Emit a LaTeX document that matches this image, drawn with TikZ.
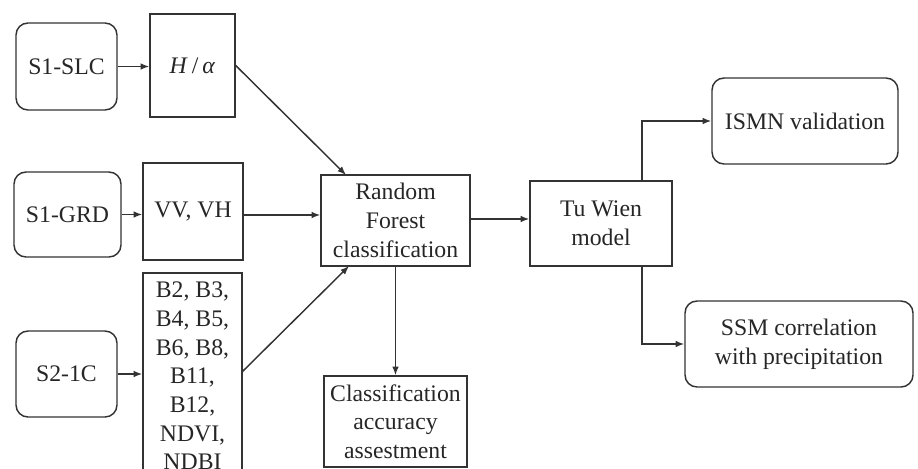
\documentclass[tikz,border=0pt]{standalone}
\usepackage{fontspec}
\setmainfont{Liberation Serif}
\usetikzlibrary{arrows.meta,calc}
\begin{document}
\begin{tikzpicture}[x=0.75pt,y=-0.75pt,
  every node/.style={font=\fontsize{17.8}{21.5}\selectfont, align=center, text=black!85, inner sep=0pt},
  rbox/.style={draw=black!80, line width=1.1pt, rounded corners=9pt},
  sbox/.style={draw=black!80, line width=1.1pt},
  conn/.style={draw=black!80, line width=1.1pt, -{Latex[length=6.5pt,width=5pt]}}]
\useasboundingbox (0,0) rectangle (918,468);
\node[rbox, minimum width=101*0.75pt, minimum height=87*0.75pt] (slc) at (66.5,66.5) {S1-SLC};
\node[sbox, minimum width=85*0.75pt, minimum height=103*0.75pt] (ha) at (192.5,65.5) {\textit{H}\,/\,\textit{α}};
\node[rbox, minimum width=107*0.75pt, minimum height=85*0.75pt] (grd) at (67.5,214.5) {S1-GRD};
\node[sbox, minimum width=100*0.75pt, minimum height=97*0.75pt] (vv) at (193,211.5) {VV, VH};
\node[sbox, minimum width=99*0.75pt, minimum height=206*0.75pt] (bb) at (192.5,376) {B2, B3,\\B4, B5,\\B6, B8,\\B11,\\B12,\\NDVI,\\NDBI};
\node[rbox, minimum width=101*0.75pt, minimum height=86*0.75pt] (s2) at (66.5,374) {S2-1C};
\node[sbox, minimum width=149*0.75pt, minimum height=91*0.75pt] (rf) at (395.5,220.5) {Random\\Forest\\classification};
\node[sbox, minimum width=142*0.75pt, minimum height=85*0.75pt] (tw) at (601,223.5) {Tu Wien\\model};
\node[rbox, minimum width=186*0.75pt, minimum height=86*0.75pt] (ismn) at (805,121) {ISMN validation};
\node[rbox, minimum width=228*0.75pt, minimum height=86*0.75pt] (ssm) at (799,344) {SSM correlation\\with precipitation};
\node[sbox, minimum width=143*0.75pt, minimum height=91*0.75pt] (ca) at (395.5,421.5) {Classification\\accuracy\\assestment};
\coordinate (rftop) at (346,175);
\coordinate (rfbot) at (349,266);
\coordinate (bbout) at (242,372);
\coordinate (twtop) at (642,181);
\coordinate (twbot) at (642,266);
\draw[conn] (slc.east) -- (slc.east -| ha.west);
\draw[conn] (grd.east) -- (grd.east -| vv.west);
\draw[conn] (s2.east) -- (s2.east -| bb.west);
\draw[conn] (ha.east) -- (rftop);
\draw[conn] (vv.east |- 0,215) -- (rf.west |- 0,215);
\draw[conn] (bbout) -- (rfbot);
\draw[conn] (rf.east |- 0,219) -- (tw.west |- 0,219);
\draw[conn] (twtop) |- (ismn.west);
\draw[conn] (twbot) |- (ssm.west);
\draw[conn] (rf.south) -- (ca.north);
\end{tikzpicture}
\end{document}
